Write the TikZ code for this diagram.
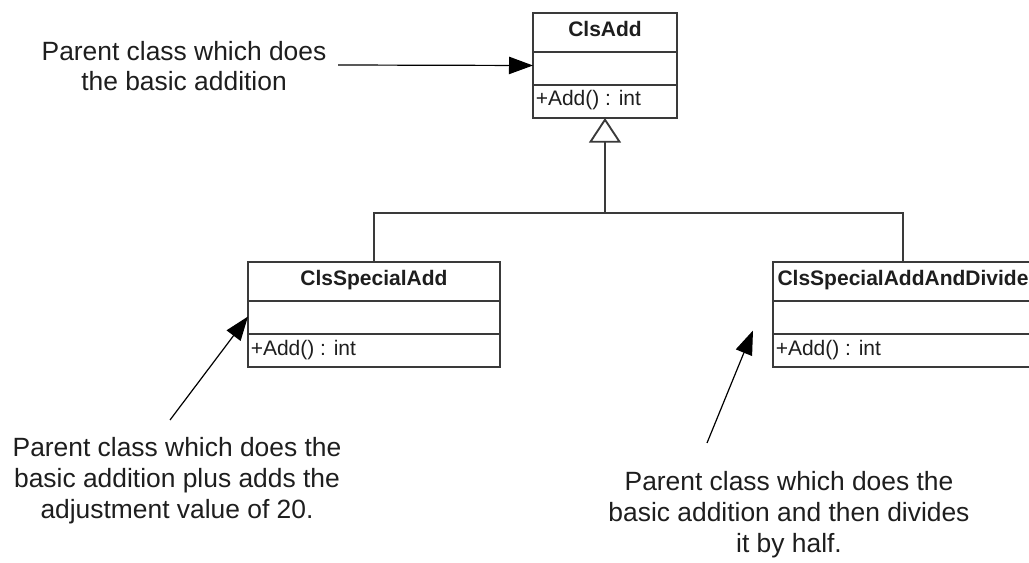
\documentclass[tikz,border=0pt]{standalone}
\usepackage{fontspec}
\setmainfont{Liberation Sans}
\usetikzlibrary{arrows.meta}

\definecolor{boxgray}{HTML}{3A3A3A}
\definecolor{inkblack}{HTML}{1E1E1E}

\tikzset{
  classbox/.style={draw=boxgray, line width=1.4pt, fill=white, rectangle,
    inner sep=0pt, outer sep=0pt, minimum height=105*0.75pt},
  boxline/.style={draw=boxgray, line width=1.4pt},
  classtitle/.style={font=\bfseries\fontsize{15.75}{18}\selectfont, text=inkblack,
    inner sep=0pt, anchor=base},
  classop/.style={font=\fontsize{15.75}{18}\selectfont, text=inkblack,
    inner sep=0pt, anchor=base west},
  note/.style={font=\fontsize{19.8}{23.2}\selectfont, text=inkblack, align=center,
    inner sep=0pt, anchor=base},
  conn/.style={draw=boxgray, line width=1.4pt},
  pointer/.style={draw=black, line width=0.9pt,
    -{Triangle[length=18pt, width=13pt]}},
}

% UML class: name, left x, top y, width, title, operation
\newcommand{\umlclass}[6]{%
  \node[classbox, minimum width=#4*0.75pt, anchor=north west] (#1) at (#2,#3) {};
  \draw[boxline] ([yshift=-39*0.75pt]#1.north west) -- ([yshift=-39*0.75pt]#1.north east);
  \draw[boxline] ([yshift=-72*0.75pt]#1.north west) -- ([yshift=-72*0.75pt]#1.north east);
  \node[classtitle] (#1-title) at ([yshift=-24*0.75pt]#1.north) {#5};
  \node[classop] (#1-op) at ([xshift=2.5*0.75pt, yshift=-93*0.75pt]#1.north west) {#6};
}

\begin{document}
\begin{tikzpicture}[x=0.75pt, y=-0.75pt]
  \useasboundingbox (0,0) rectangle (1029,563);
  \clip (0,0) rectangle (1029,563);
  \fill[white] (0,0) rectangle (1029,563);

  % inheritance connectors (drawn first so boxes sit on top)
  \coordinate (bus) at (605,213);
  \draw[conn] (374,262) |- (bus) -| (903,262);

  % classes
  \umlclass{clsadd}{533}{13}{144}{ClsAdd}{+Add() : int}
  \umlclass{special}{248}{262}{252}{ClsSpecialAdd}{+Add() : int}
  \umlclass{divide}{773}{262}{260}{ClsSpecialAddAndDivide}{+Add() : int}

  \draw[conn, -{Triangle[open, fill=white, length=18.5pt, width=24pt]}] (bus) -- (clsadd.south);

  % annotations (anchored at the baseline of their last line)
  \node[note] (noteBase) at (184,91) {Parent class which does\\the basic addition};
  \node[note] (noteSpecial) at (177,518)
    {Parent class which does the\\basic addition plus adds the\\adjustment value of 20.};
  \node[note] (noteDivide) at (789,552)
    {Parent class which does the\\basic addition and then divides\\it by half.};

  \coordinate (noteBaseTail) at (338,65);
  \coordinate (noteSpecialTail) at (170,420);
  \coordinate (noteDivideTail) at (707,443);
  \coordinate (noteDivideTip) at ([xshift=-20*0.75pt, yshift=-16*0.75pt]divide.west);

  \draw[pointer] (noteBaseTail) -- (clsadd.west);
  \draw[pointer] (noteSpecialTail) -- ([yshift=-2*0.75pt]special.west);
  \draw[pointer] (noteDivideTail) -- (noteDivideTip);
\end{tikzpicture}
\end{document}
